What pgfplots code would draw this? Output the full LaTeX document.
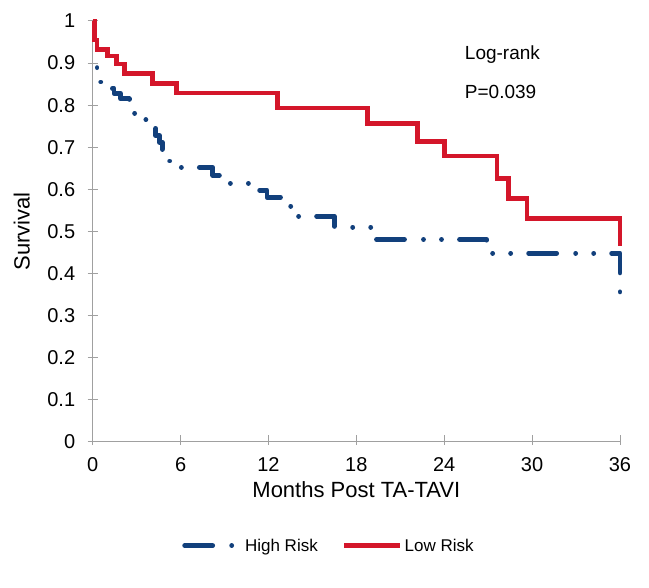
\documentclass[border=0pt]{standalone}
\usepackage{fontspec}
\setmainfont{Liberation Sans}
\usepackage{pgfplots}
\pgfplotsset{compat=1.18}
\definecolor{hiblue}{RGB}{18,64,124}
\definecolor{lored}{RGB}{212,22,42}
\definecolor{axgray}{RGB}{160,160,160}
\begin{document}
\begin{tikzpicture}
\useasboundingbox (-92.7pt,-146.3pt) rectangle (556.3pt,441.7pt);
\begin{axis}[
  at={(0pt,0pt)}, anchor=origin,
  scale only axis,
  width=527.3pt, height=420.7pt,
  xmin=0, xmax=36, ymin=0, ymax=1,
  axis x line=bottom, axis y line=left,
  axis line style={-, draw=axgray, line width=1pt},
  xtick={0,6,...,36},
  ytick={0,0.1,...,1.0},
  yticklabels={0,0.1,0.2,0.3,0.4,0.5,0.6,0.7,0.8,0.9,1},
  tick align=inside,
  major tick length=10pt,
  tick style={draw=axgray, line width=1pt},
  xtick style={yshift=-3pt},
  ytick style={xshift=-5pt},
  /pgf/number format/assume math mode=true,
  tick label style={font=\fontsize{20}{24}\selectfont},
  yticklabel style={xshift=-14pt},
  xticklabel style={yshift=-12pt},
  xlabel={Months Post TA-TAVI},
  ylabel={Survival},
  label style={font=\fontsize{22}{26}\selectfont},
  xlabel style={at={(axis description cs:0.5,0)}, anchor=center, yshift=-48pt},
  ylabel style={at={(axis description cs:-0.1346,0.5)}, anchor=center},
  clip=false,
  legend columns=2,
  legend style={draw=none, at={(axis description cs:0.448,-0.247)}, anchor=center,
    font=\fontsize{17}{20}\selectfont,
    /tikz/every even column/.append style={column sep=22pt},
    nodes={inner sep=2pt}},
  legend image code/.code={\draw[#1, dash phase=0pt] (0pt,0pt) -- (56pt,0pt);},
]
\addplot[const plot, color=hiblue, line width=4.8pt, line cap=round, line join=round,
  dash pattern=on 28pt off 19pt on 0.01pt off 18pt on 0.01pt off 18pt, dash phase=79pt] coordinates {
(0,1.0) (0.12,0.955) (0.3,0.875) (0.5,0.855) (1.0,0.840) (1.45,0.828) (1.9,0.815)
(2.5,0.800) (2.8,0.781) (3.3,0.765) (4.0,0.745) (4.3,0.728) (4.55,0.712) (4.75,0.695)
(5.1,0.667) (5.7,0.652) (8.2,0.633) (9.1,0.614) (11.0,0.598) (11.9,0.581) (13.3,0.560)
(13.8,0.536) (16.5,0.510) (19.05,0.481) (26.9,0.448) (36,0.35)
};
\addlegendentry{High Risk}
\addplot[const plot, color=lored, line width=4.8pt, line join=miter] coordinates {
(0,1.000) (0.12,0.955) (0.3,0.933) (1.0,0.917) (1.64,0.898) (2.18,0.876) (4.09,0.852)
(5.73,0.829) (12.6,0.793) (18.75,0.757) (22.2,0.714) (24.0,0.679) (27.6,0.626)
(28.4,0.579) (29.65,0.531) (36,0.464)
};
\addlegendentry{Low Risk}
\node[anchor=west, inner sep=0pt, font=\fontsize{19}{22}\selectfont] at (axis cs:25.4,0.919) {Log-rank};
\node[anchor=west, inner sep=0pt, font=\fontsize{19}{22}\selectfont] at (axis cs:25.4,0.831) {P=0.039};
\end{axis}
\end{tikzpicture}
\end{document}
